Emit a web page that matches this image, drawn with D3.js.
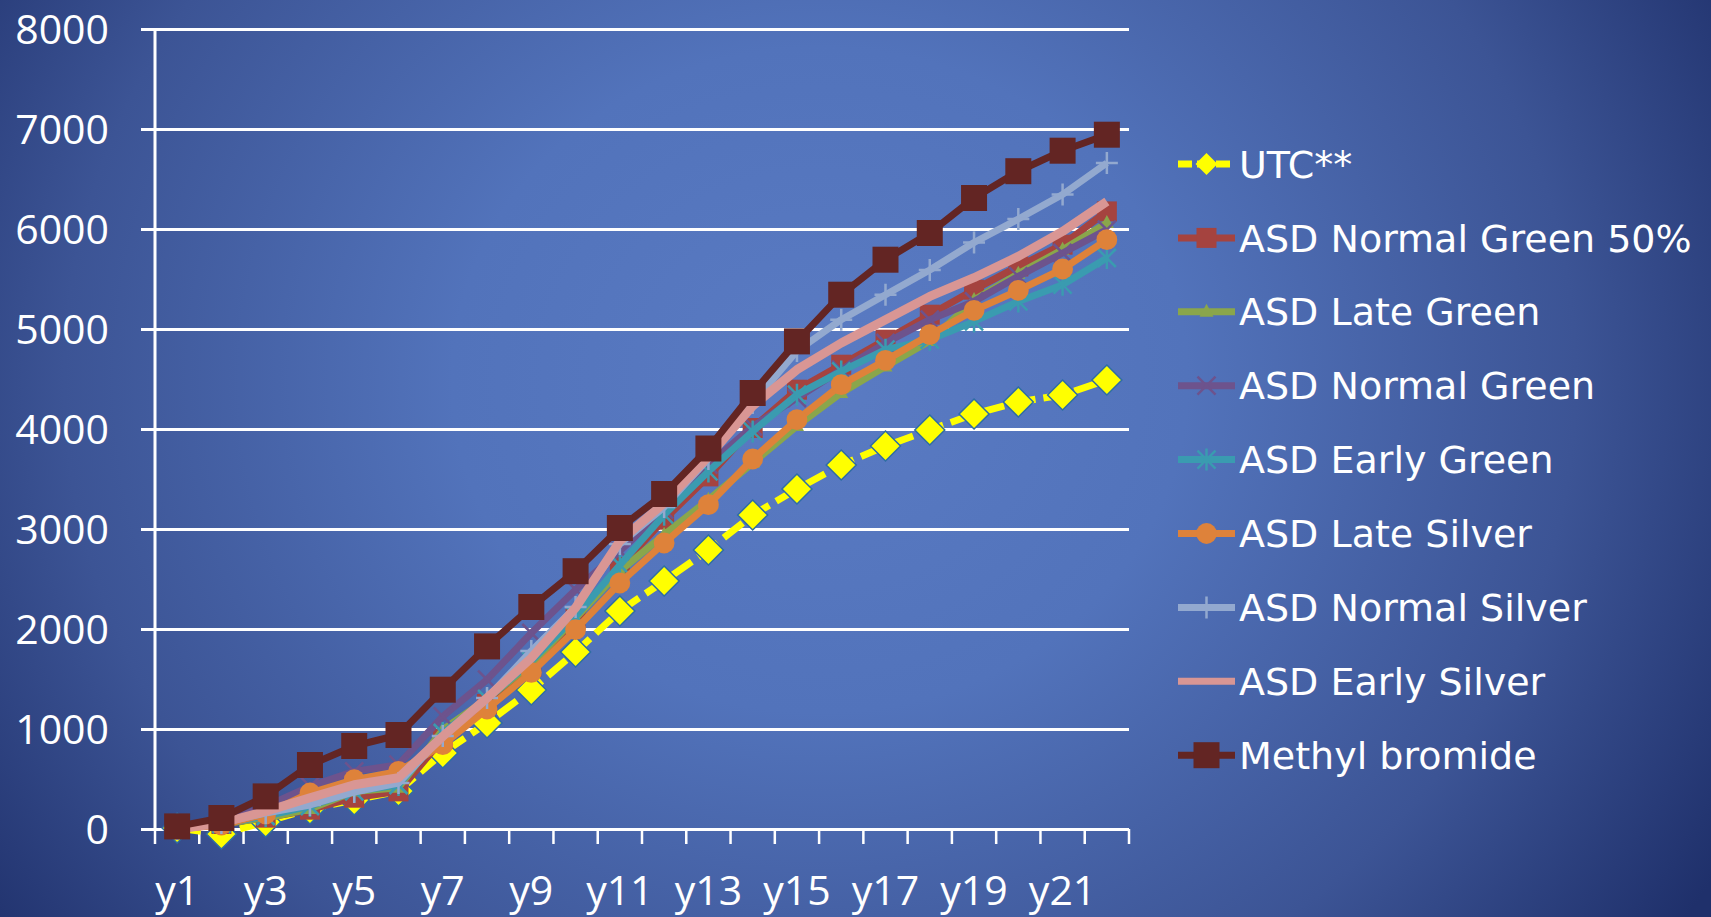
<!DOCTYPE html>
<html>
<head>
<meta charset="utf-8">
<script src="https://cdn.jsdelivr.net/npm/d3@7"></script>
<style>
   html, body { margin: 0; padding: 0; overflow: hidden; background: #2a3d7c; }
   svg { display: block; }
</style>
</head>
<body>
<div id="chart"></div>
<script>
var width = 1711
var height = 917

// categories
var years = ["y1","y2","y3","y4","y5","y6","y7","y8","y9","y10","y11","y12","y13","y14","y15","y16","y17","y18","y19","y20","y21","y22"]
var yTicks = [0, 1000, 2000, 3000, 4000, 5000, 6000, 7000, 8000]

// series values
var utc          = [10, -50, 70, 200, 290, 380, 760, 1060, 1390, 1770, 2180, 2480, 2790, 3140, 3400, 3640, 3830, 3990, 4150, 4270, 4340, 4490]
var normGreen50  = [0, 50, 113, 193, 313, 376, 900, 1250, 1620, 2100, 2620, 3093, 3526, 4010, 4393, 4643, 4893, 5143, 5393, 5626, 5843, 6176]
var lateGreen    = [0, 50, 110, 200, 376, 413, 993, 1300, 1650, 2110, 2580, 2943, 3293, 3660, 4030, 4360, 4626, 4880, 5290, 5553, 5793, 6060]
var normGreen    = [0, 60, 226, 426, 576, 643, 1126, 1493, 1960, 2393, 2780, 3193, 3643, 4026, 4310, 4593, 4860, 5093, 5276, 5526, 5760, 5993]
var earlyGreen   = [0, 50, 130, 230, 376, 440, 960, 1300, 1680, 2126, 2640, 3143, 3576, 3976, 4343, 4576, 4793, 4893, 5076, 5276, 5443, 5710]
var lateSilver   = [0, 40, 150, 360, 493, 576, 843, 1200, 1566, 1993, 2460, 2860, 3243, 3700, 4093, 4443, 4686, 4943, 5186, 5386, 5600, 5893]
var normSilver   = [0, 60, 160, 240, 370, 460, 930, 1310, 1780, 2220, 2850, 3220, 3700, 4260, 4780, 5093, 5343, 5590, 5865, 6100, 6345, 6660]
var earlySilver  = [0, 60, 176, 313, 443, 513, 926, 1310, 1710, 2213, 2880, 3260, 3726, 4230, 4593, 4860, 5093, 5326, 5513, 5726, 5976, 6276]
var methylBrom   = [26, 110, 326, 640, 830, 940, 1393, 1826, 2220, 2578, 3010, 3350, 3805, 4360, 4876, 5343, 5693, 5960, 6310, 6578, 6783, 6943]

var seriesNames = ["UTC**", "ASD Normal Green 50%", "ASD Late Green", "ASD Normal Green", "ASD Early Green",
                   "ASD Late Silver", "ASD Normal Silver", "ASD Early Silver", "Methyl bromide"]
var seriesValues = [utc, normGreen50, lateGreen, normGreen, earlyGreen, lateSilver, normSilver, earlySilver, methylBrom]
var seriesColors = ["#ffff00", "#a5433f", "#8aa64b", "#6d538d", "#3a9bb0", "#de823a", "#93a9cf", "#d99694", "#632523"]
var seriesMarkers = ["diamond", "square", "triangle", "x", "star", "circle", "plus", "none", "bigsquare"]

// marker path generator, centred on 0,0
function markerPath(kind) {
   switch(kind) {
      case "diamond":   return "M0,-15L15,0L0,15L-15,0Z"
      case "square":    return "M-10,-10H10V10H-10Z"
      case "bigsquare": return "M-13,-13H13V13H-13Z"
      case "triangle":  return "M0,-8L7,5H-7Z"
      case "circle":    return d3.symbol(d3.symbolCircle, 340)()
      case "x":         return "M-9,-9L9,9M9,-9L-9,9"
      case "star":      return "M-9,-9L9,9M9,-9L-9,9M0,-11V11"
      case "plus":      return "M-11,0H11M0,-11V11"
   }
   return ""
}
function markerIsStroke(kind) {
   return kind == "x" || kind == "star" || kind == "plus"
}

var svg = d3.select("#chart").append("svg")
   .attr("width", width)
   .attr("height", height)

// background gradient
var defs = svg.append("defs")
var grad = defs.append("radialGradient")
   .attr("id", "bg")
   .attr("gradientUnits", "userSpaceOnUse")
   .attr("cx", 820).attr("cy", 380).attr("r", 1000)
   .attr("gradientTransform", "translate(820,380) scale(1.05,0.95) translate(-820,-380)")
grad.append("stop").attr("offset", 0).attr("stop-color", "#5a7bc3")
grad.append("stop").attr("offset", 0.35).attr("stop-color", "#5273bb")
grad.append("stop").attr("offset", 0.72).attr("stop-color", "#3c5495")
grad.append("stop").attr("offset", 1).attr("stop-color", "#1f306b")

svg.append("rect")
   .attr("width", width).attr("height", height)
   .attr("fill", "url(#bg)")

var plotLeft = 155, plotRight = 1129, plotTop = 29, plotBottom = 829

var x = d3.scaleBand().domain(years).range([plotLeft, plotRight]).paddingInner(0).paddingOuter(0)
var y = d3.scaleLinear().domain([0, 8000]).range([plotBottom, plotTop])
function cx(d, i) { return x(years[i]) + x.bandwidth() / 2 }

// y axis with gridlines
var yAxis = svg.append("g")
   .attr("transform", "translate(" + (plotLeft - 14) + ",0)")
   .call(d3.axisLeft(y).tickValues(yTicks).tickFormat(d3.format("d"))
      .tickSize(-(plotRight - plotLeft + 14)).tickPadding(32))
yAxis.select(".domain").remove()
yAxis.selectAll(".tick line").attr("stroke", "#ffffff").attr("stroke-width", 3)
yAxis.selectAll(".tick text")
   .attr("fill", "#ffffff")
   .attr("font-family", "'Open Sans', sans-serif")
   .attr("font-size", 41)
   .attr("dy", "0.36em")

svg.append("line")
   .attr("x1", plotLeft).attr("x2", plotLeft)
   .attr("y1", plotTop).attr("y2", plotBottom)
   .attr("stroke", "#ffffff").attr("stroke-width", 3)

// x axis ticks at category boundaries
var bounds = years.map(function(c) { return x(c) }).concat([plotRight])
svg.selectAll("line.xtick").data(bounds).enter().append("line")
   .attr("class", "xtick")
   .attr("x1", function(d) { return d }).attr("x2", function(d) { return d })
   .attr("y1", plotBottom).attr("y2", plotBottom + 15)
   .attr("stroke", "#ffffff").attr("stroke-width", 2.5)

svg.selectAll("text.xlabel").data(years.filter(function(d, i) { return i % 2 == 0 })).enter().append("text")
   .attr("class", "xlabel")
   .attr("x", function(d) { return x(d) + x.bandwidth() / 2 })
   .attr("y", 905)
   .attr("text-anchor", "middle")
   .attr("fill", "#ffffff")
   .attr("font-family", "'Open Sans', sans-serif")
   .attr("font-size", 41)
   .text(function(d) { return d })

// series
var line = d3.line()
   .x(function(d, i) { return cx(d, i) })
   .y(function(d) { return y(d) })

seriesValues.forEach(function(vals, s) {
   var col = seriesColors[s]
   var g = svg.append("g").attr("class", "series")

   g.append("path")
      .datum(vals)
      .attr("d", line)
      .attr("fill", "none")
      .attr("stroke", col)
      .attr("stroke-width", s == 7 ? 9 : 7)
      .attr("stroke-linejoin", "round")
      .attr("stroke-dasharray", s == 0 ? "24,8" : null)

   var kind = seriesMarkers[s]
   if(kind == "none") return

   g.selectAll("path.marker").data(vals).enter().append("path")
      .attr("class", "marker")
      .attr("d", markerPath(kind))
      .attr("transform", function(d, i) { return "translate(" + cx(d, i) + "," + y(d) + ")" })
      .attr("fill", markerIsStroke(kind) ? "none" : col)
      .attr("stroke", kind == "diamond" ? "#2e6da4" : col)
      .attr("stroke-width", markerIsStroke(kind) ? 2.5 : (kind == "diamond" ? 1.5 : 0))
})

// legend
var legendTop = 164, legendStep = 73.9
var leg = svg.selectAll("g.legend").data(seriesNames).enter().append("g")
   .attr("class", "legend")
   .attr("transform", function(d, i) { return "translate(1178," + (legendTop + i * legendStep) + ")" })

leg.append("line")
   .attr("x1", 0).attr("x2", 57)
   .attr("stroke", function(d, i) { return seriesColors[i] })
   .attr("stroke-width", 7)
   .attr("stroke-dasharray", function(d, i) { return i == 0 ? "14,5" : null })

leg.append("path")
   .attr("transform", "translate(28.5,0)")
   .attr("d", function(d, i) {
      var k = seriesMarkers[i]
      if(k == "diamond") return "M0,-11L11,0L0,11L-11,0Z"
      return markerPath(k)
   })
   .attr("fill", function(d, i) { return markerIsStroke(seriesMarkers[i]) ? "none" : seriesColors[i] })
   .attr("stroke", function(d, i) { return seriesColors[i] })
   .attr("stroke-width", function(d, i) { return markerIsStroke(seriesMarkers[i]) ? 2.5 : 0 })

leg.append("text")
   .attr("x", 61)
   .attr("dy", "0.36em")
   .attr("fill", "#ffffff")
   .attr("font-family", "'DejaVu Sans', sans-serif")
   .attr("font-size", 38)
   .text(function(d) { return d })
</script>
</body>
</html>
